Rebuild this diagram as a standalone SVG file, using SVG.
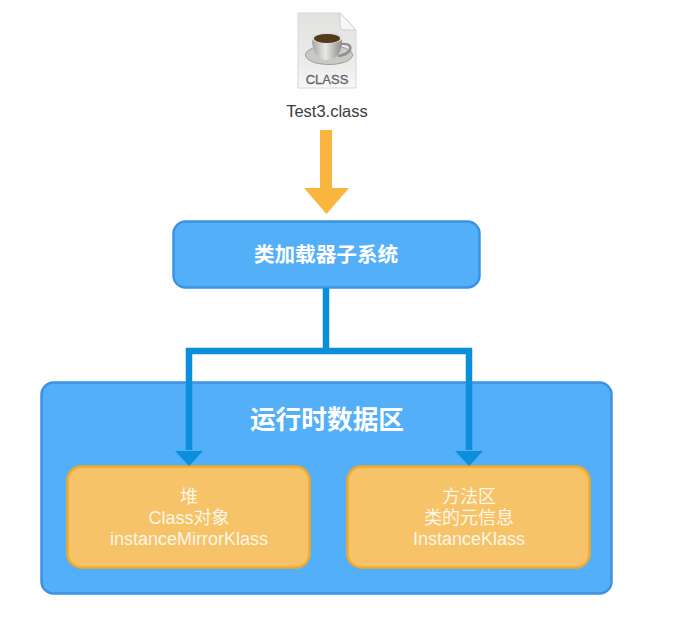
<svg xmlns="http://www.w3.org/2000/svg" width="695" height="623" viewBox="0 0 695 623">
<style>
.blue{fill:#54aff9;stroke:#3c93e6;stroke-width:2.5}
.org{fill:#f6c369;stroke:#f3a928;stroke-width:2.5}
text{font-family:"Liberation Sans","Noto Sans CJK SC",sans-serif;text-anchor:middle}
.t{fill:#fdf6e6;font-size:18px}
.h{fill:#fff;font-weight:700}
.c{fill:none;stroke:#0b8fdb;stroke-width:6.500}
</style>
<defs>
<linearGradient id="cup" x1="0" x2="1" y1="0" y2="0"><stop offset="0" stop-color="#a5a5a3"/><stop offset=".45" stop-color="#e8e8e6"/><stop offset="1" stop-color="#8a8a88"/></linearGradient>
<linearGradient id="pg" x1="0" x2="0" y1="0" y2="1"><stop offset="0" stop-color="#e2e2e0"/><stop offset=".7" stop-color="#ececea"/><stop offset="1" stop-color="#f8f8f8"/></linearGradient>
</defs>
<rect width="695" height="623" fill="#fefefe"/>
<g id="class-file">
<path d="M298 13H340L356 30V88H298Z" fill="url(#pg)" stroke="#d8d8d6" stroke-width="1"/>
<path d="M340 13L356 30H345Q340 30 340 25Z" fill="#f7f7f7" stroke="#cfcfcd" stroke-width="1"/>
<ellipse cx="329" cy="55" rx="23.500" ry="9.500" fill="#c9c9c7" stroke="#9d9d9b"/>
<path d="M341 44Q352 43 350 50Q347 55 338 56" fill="none" stroke="#8f8f8d" stroke-width="2.500"/>
<path d="M312 39C312 52 317 60 327 60C337 60 342 52 342 39Z" fill="url(#cup)"/>
<ellipse cx="327" cy="38" rx="15.500" ry="5.500" fill="#dededc"/>
<ellipse cx="327" cy="38.500" rx="13" ry="4.500" fill="#54391c"/>
<text x="327" y="84" font-size="13" fill="#5f6468" stroke="#5f6468" stroke-width=".3">CLASS</text>
<text x="327" y="117" font-size="16.500" fill="#3c3c3c">Test3.class</text>
</g>
<g id="input-arrow"><path d="M320 130H332V188H349L326.500 214L304 188H320Z" fill="#f9b53e"/></g>
<g id="runtime-data-area">
<rect class="blue" x="41.500" y="382.500" width="570" height="211" rx="12"/>
<text class="h" x="327" y="429" font-size="25.700">运行时数据区</text>
</g>
<g id="class-loader">
<rect class="blue" x="173.500" y="221.500" width="306" height="66" rx="12"/>
<text class="h" x="326" y="262" font-size="20.600">类加载器子系统</text>
</g>
<g id="heap">
<rect class="org" x="67.500" y="466.500" width="242" height="101" rx="14"/>
<text class="t" x="189" y="503">堆</text>
<text class="t" x="189" y="524">Class对象</text>
<text class="t" x="189" y="545">instanceMirrorKlass</text>
</g>
<g id="method-area">
<rect class="org" x="347.500" y="466.500" width="242" height="101" rx="14"/>
<text class="t" x="469" y="503">方法区</text>
<text class="t" x="469" y="524">类的元信息</text>
<text class="t" x="469" y="545">InstanceKlass</text>
</g>
<g id="connectors">
<path class="c" d="M326 288V351M189 450V351H469V450"/>
<path d="M175 451H203L189 466Z" fill="#0b8fdb"/>
<path d="M455 451H483L469 466Z" fill="#0b8fdb"/>
</g>
</svg>
